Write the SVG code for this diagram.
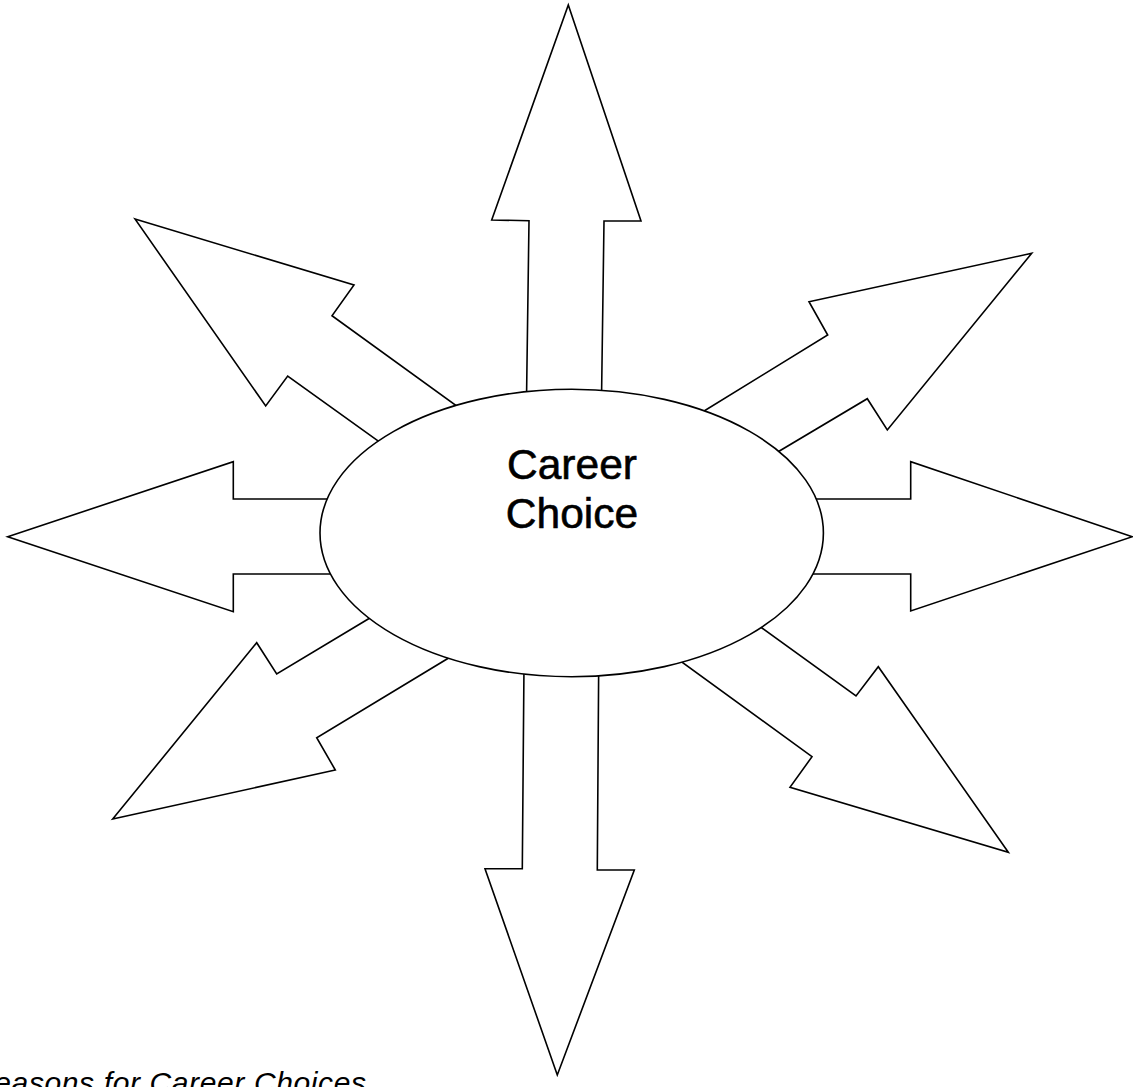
<svg xmlns="http://www.w3.org/2000/svg" width="1133" height="1087" viewBox="0 0 1133 1087">
<style>
.arrow{fill:#ffffff;stroke:#000000;stroke-width:1.6;stroke-linejoin:miter}
.node{fill:#ffffff;stroke:#000000;stroke-width:1.6}
.label{font-family:"Liberation Sans",Arial,sans-serif;font-size:42.5px;fill:#000000;stroke:#000000;stroke-width:0.6;text-anchor:middle}
.caption{font-family:"Liberation Sans",Arial,sans-serif;font-style:italic;font-size:30px;fill:#000000}
</style>
<rect x="0" y="0" width="1133" height="1087" fill="#ffffff"/>
<g id="connectors">
  <g id="arrow-up"><polygon class="arrow" points="526.5,400 529,220.7 491.7,220 568.3,5 641,221 604,221 601.5,400"/></g>
  <g id="arrow-up-left"><polygon class="arrow" points="135,219 354,285 332,315.7 466.5,413 386,446.7 287.7,376 265.7,406"/></g>
  <g id="arrow-up-right"><polygon class="arrow" points="1031.7,253.3 809,301.7 827.7,335 693.5,417.5 771,456 867.3,398.7 887.3,430"/></g>
  <g id="arrow-left"><polygon class="arrow" points="7.7,536.7 233.3,461.7 233.3,499 340,499 340,574 233.3,574 233.3,611.7"/></g>
  <g id="arrow-right"><polygon class="arrow" points="1132.3,536.7 910.7,461.7 910.7,499 805,499 805,574 910.7,574 910.7,611"/></g>
  <g id="arrow-down-left"><polygon class="arrow" points="112.7,819 256.7,642.7 276.7,674 377,613.7 461,650.5 316.7,737.7 335.3,770"/></g>
  <g id="arrow-down-right"><polygon class="arrow" points="1008.3,852.3 878.3,666.7 856,696 753,621.5 670,653.5 812,756.7 790,787.3"/></g>
  <g id="arrow-down"><polygon class="arrow" points="557.3,1075 485,868.7 522.3,868.7 524,665 598.7,665 597.3,870 634.3,870"/></g>
</g>
<g id="career-choice">
  <ellipse class="node" cx="571.7" cy="533" rx="251.7" ry="143.7"/>
  <text class="label" x="572" y="479">Career</text>
  <text class="label" x="572" y="528">Choice</text>
</g>
<g id="caption">
  <text class="caption" x="-28" y="1093" textLength="394" lengthAdjust="spacing">Reasons for Career Choices</text>
</g>
</svg>
